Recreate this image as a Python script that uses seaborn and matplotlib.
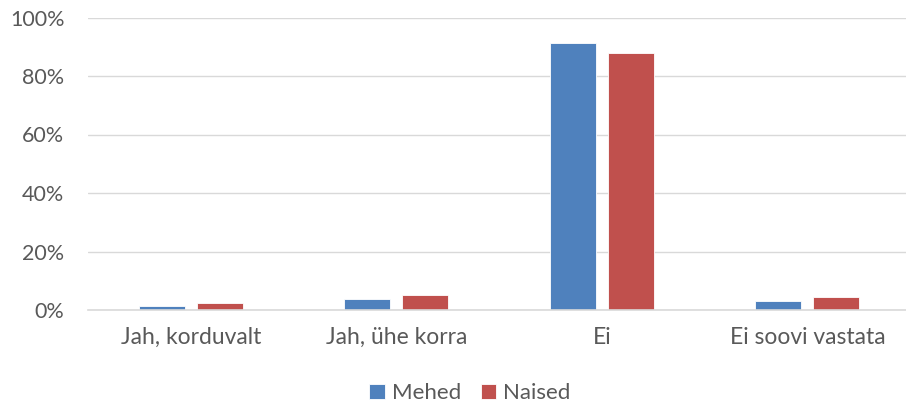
import matplotlib
matplotlib.use("Agg")
import matplotlib.pyplot as plt
import seaborn as sns
import pandas as pd
from matplotlib.ticker import PercentFormatter

categories = ["Jah, korduvalt", "Jah, ühe korra", "Ei", "Ei soovi vastata"]
mehed = [0.015, 0.037, 0.912, 0.031]
naised = [0.023, 0.050, 0.880, 0.046]
series = ["Mehed", "Naised"]
colors = ["#4F81BD", "#C0504D"]

df = pd.DataFrame({
    "kategooria": categories * 2,
    "osakaal": mehed + naised,
    "sugu": [series[0]] * len(categories) + [series[1]] * len(categories),
})

sns.set_style("white")
plt.rcParams["font.family"] = ["Lato", "DejaVu Sans"]
text_color = "#595959"

fig = plt.figure(figsize=(9.06, 4.03), dpi=100)
ax = fig.add_axes([88 / 906, 1 - 310 / 403, 1 - 88 / 906, (310 - 17.5) / 403])

sns.barplot(data=df, x="kategooria", y="osakaal", hue="sugu",
            palette=colors, width=0.564, gap=0.207, ax=ax,
            edgecolor="white", linewidth=0.6, saturation=1, legend=True)

ax.set_ylim(0, 1)
ax.set_xlim(-0.5, 3.48)
ax.yaxis.set_major_formatter(PercentFormatter(1.0, decimals=0))
ax.set_yticks([0, 0.2, 0.4, 0.6, 0.8, 1.0])
ax.grid(axis="y", color="#D9D9D9", linewidth=1)
ax.set_axisbelow(True)
for side in ["top", "right", "left"]:
    ax.spines[side].set_visible(False)
ax.spines["bottom"].set_color("#D9D9D9")
ax.spines["bottom"].set_linewidth(1.2)
ax.set_xlabel("")
ax.set_ylabel("")
ax.tick_params(axis="both", length=0, colors=text_color)
ax.tick_params(axis="y", pad=17, labelsize=15.5)
ax.tick_params(axis="x", pad=12, labelsize=16.5)

handles, labels = ax.get_legend_handles_labels()
ax.legend(handles, labels, loc="center", bbox_to_anchor=(0.467, -0.285),
          ncol=2, frameon=False, fontsize=16, handlelength=0.7, handleheight=0.7,
          handletextpad=0.3, columnspacing=0.9, labelcolor=text_color)

fig.savefig("out.png", dpi=100)
